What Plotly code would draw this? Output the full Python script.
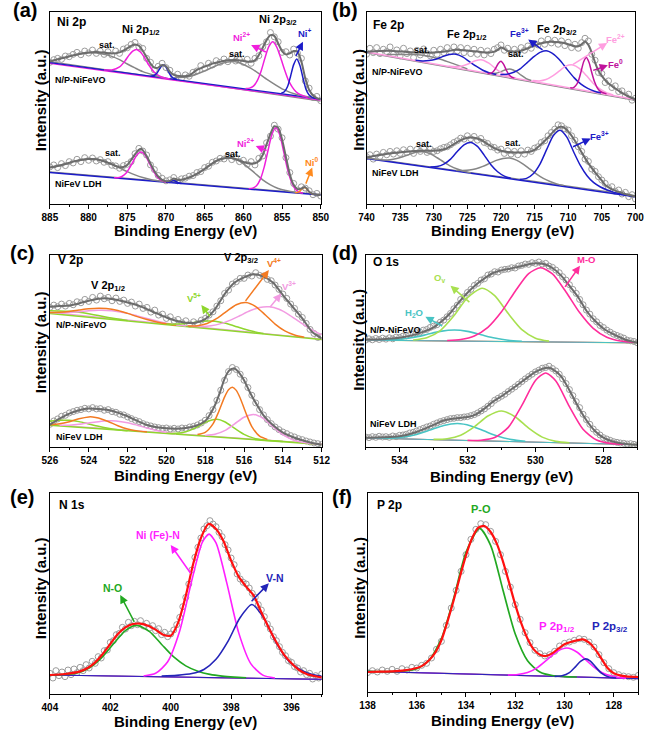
import plotly.graph_objects as go

FONT = "Liberation Sans, Arial, Helvetica, sans-serif"
W, H = 661, 735

# ======================= (a) Ni 2p =======================
a_data_x = [885.0, 884.5, 884.0, 883.5, 883.0, 882.5, 882.0, 881.5, 881.0, 880.5, 880.0, 879.5, 879.0, 878.5,
            878.0, 877.5, 877.0, 876.5, 876.0, 875.5, 875.0, 874.5, 874.0, 873.5, 873.0, 872.5, 872.0, 871.5,
            871.0, 870.5, 870.0, 869.5, 869.0, 868.5, 868.0, 867.5, 867.0, 866.5, 866.0, 865.5, 865.0, 864.5,
            864.0, 863.5, 863.0, 862.5, 862.0, 861.5, 861.0, 860.5, 860.0, 859.5, 859.0, 858.5, 858.0, 857.5,
            857.0, 856.5, 856.0, 855.5, 855.0, 854.5, 854.0, 853.5, 853.0, 852.5, 852.0, 851.5, 851.0, 850.5, 850.0]
a_top_data_y = [428, 436, 440, 437, 447, 445, 452, 458, 451, 462, 456, 465, 455, 462, 452, 460, 450, 462, 455, 468,
                472, 482, 488, 475, 470, 440, 428, 405, 416, 425, 412, 404, 385, 392, 380, 390, 386, 398, 402, 418,
                410, 425, 420, 433, 428, 438, 430, 440, 432, 436, 428, 437, 425, 440, 448, 475, 490, 518, 505, 490,
                458, 460, 450, 468, 455, 440, 372, 350, 322, 325, 312]
a_bot_data_y = [112, 118, 110, 122, 116, 128, 124, 135, 128, 140, 132, 139, 130, 134, 126, 128, 117, 115, 108, 116,
                120, 128, 152, 168, 160, 148, 118, 104, 86, 78, 70, 73, 80, 70, 76, 78, 84, 86, 95, 98,
                110, 114, 126, 130, 138, 136, 145, 134, 140, 128, 132, 120, 128, 118, 138, 145, 185, 205, 238, 226,
                200, 140, 95, 62, 42, 52, 48, 40, 28, 32, 24]
a_top_env_x = [885, 884, 883, 882, 881, 880, 879, 878, 877, 876, 875, 874.5, 874, 873.5, 873, 872.5, 872, 871.5, 871,
               870.5, 870, 869.5, 869, 868, 867, 866, 865, 864, 863, 862, 861, 860, 859, 858.5, 858, 857.5, 857,
               856.5, 856, 855.5, 855, 854.5, 854, 853.5, 853, 852.5, 852, 851.5, 851, 850.5, 850]
a_top_env_y = [430, 437, 443, 449, 454, 458, 459, 457, 455, 458, 470, 478, 482, 478, 463, 443, 424, 412, 412, 420,
               416, 400, 390, 386, 388, 405, 415, 424, 430, 434, 435, 432, 430, 434, 450, 472, 495, 510, 508, 485,
               462, 452, 455, 462, 460, 430, 380, 345, 328, 320, 316]
a_bot_env_x = [885, 884, 883, 882, 881, 880, 879, 878, 877, 876, 875.5, 875, 874.5, 874, 873.5, 873.2, 873, 872.5, 872,
               871.5, 871, 870.5, 870, 869.5, 869, 868.5, 868, 867, 866, 865, 864, 863, 862, 861, 860, 859, 858.5,
               858, 857.5, 857, 856.5, 856, 855.5, 855, 854.5, 854, 853.5, 853, 852.5, 852, 851.5, 851, 850.5, 850]
a_bot_env_y = [110, 115, 121, 128, 133, 136, 135, 129, 120, 111, 112, 118, 133, 150, 164, 167, 163, 145, 122, 100,
               83, 73, 69, 70, 77, 73, 73, 80, 91, 106, 123, 135, 140, 136, 127, 122, 123, 130, 148, 180,
               212, 235, 230, 195, 142, 90, 58, 45, 47, 51, 37, 30, 28, 27]
a_base_x = [885, 850]
a_top_base_blue_y = [427, 317]
a_top_base_gray_y = [430, 311]
a_top_base_mag_y = [425, 314]
a_bot_base_blue_y = [95, 27]
a_bot_base_gray_y = [97, 29]
a_top_sat1_x = [885, 883, 881, 880, 879, 878, 877, 876, 875, 874, 873, 871.5, 870]
a_top_sat1_y = [432, 443, 454, 457, 456, 452, 446, 436, 423, 411, 400, 389, 380]
a_top_ni2a_x = [878, 877, 876, 875.3, 874.8, 874.3, 873.8, 873.3, 872.8, 872.3, 871.5, 870.5, 869.5]
a_top_ni2a_y = [405, 405, 414, 432, 449, 462, 467, 459, 443, 423, 398, 383, 378]
a_top_ni1a_x = [872, 871.5, 871.2, 870.9, 870.6, 870.3, 870.0, 869.7, 869.4, 869.1, 868.6]
a_top_ni1a_y = [386, 389, 394, 405, 416, 420, 414, 401, 388, 381, 376]
a_top_sat2_x = [869, 867, 865, 863, 861, 859, 857, 855, 853, 851]
a_top_sat2_y = [381, 385, 402, 423, 430, 410, 377, 348, 330, 321]
a_top_ni2b_x = [859.7, 859.2, 858.7, 858.2, 857.7, 857.2, 856.7, 856.2, 855.7, 855.2, 854.7, 854.2, 853.7, 853.2, 852.7, 851.7]
a_top_ni2b_y = [349, 350, 356, 373, 402, 442, 476, 490, 475, 443, 407, 375, 354, 339, 331, 322]
a_top_ni1b_x = [855.1, 854.7, 854.3, 853.9, 853.5, 853.1, 852.7, 852.3, 851.9, 851.5, 851.1, 850.5]
a_top_ni1b_y = [335, 339, 354, 386, 421, 438, 419, 381, 346, 329, 322, 319]
a_bot_sat1_x = [885, 884, 883, 882, 881, 880, 879.5, 879, 878, 877, 876, 875, 874, 873, 872, 871, 870]
a_bot_sat1_y = [110, 115, 121, 128, 133, 136, 137, 135, 129, 120, 109, 98, 88, 80, 74, 70, 66]
a_bot_ni2a_x = [876.7, 876.2, 875.7, 875.2, 874.7, 874.2, 873.7, 873.2, 872.7, 872.2, 871.7, 871.2, 870.7, 870.2, 869.7]
a_bot_ni2a_y = [79, 79.5, 83, 92, 109, 130, 150, 157, 148, 126, 103, 84, 73, 68, 65]
a_bot_small_x = [870, 869.5, 869.2, 869.0, 868.8, 868.5, 868]
a_bot_small_y = [66, 67, 70, 72, 69.5, 65, 62]
a_bot_sat2_x = [870, 869, 868, 867, 866, 865, 864, 863, 861.8, 860.5, 859.5, 858.5, 857.5, 856.5, 855.5, 854.5, 853.5, 852.5]
a_bot_sat2_y = [68, 69, 73, 80, 91, 106, 123, 135, 140, 130, 113, 93, 73, 58, 47, 41, 36, 33]
a_bot_ni2b_x = [859.3, 858.8, 858.3, 857.8, 857.3, 856.8, 856.3, 855.8, 855.3, 854.8, 854.3, 853.8, 853.3, 852.8, 852.3]
a_bot_ni2b_y = [46, 48, 55, 75, 112, 163, 211, 230, 209, 159, 106, 67, 45, 36, 32.5]
a_bot_ni0_x = [853.3, 853.0, 852.7, 852.4, 852.1, 851.8, 851.5, 851.2, 850.9]
a_bot_ni0_y = [34, 35, 39, 47, 50, 45.5, 37, 31.4, 29]

# ======================= (b) Fe 2p =======================
b_data_x = [740.0, 739.5, 739.0, 738.5, 738.0, 737.5, 737.0, 736.5, 736.0, 735.5, 735.0, 734.5, 734.0, 733.5,
            733.0, 732.5, 732.0, 731.5, 731.0, 730.5, 730.0, 729.5, 729.0, 728.5, 728.0, 727.5, 727.0, 726.5,
            726.0, 725.5, 725.0, 724.5, 724.0, 723.5, 723.0, 722.5, 722.0, 721.5, 721.0, 720.5, 720.0, 719.5,
            719.0, 718.5, 718.0, 717.5, 717.0, 716.5, 716.0, 715.5, 715.0, 714.5, 714.0, 713.5, 713.0, 712.5,
            712.0, 711.5, 711.0, 710.5, 710.0, 709.5, 709.0, 708.5, 708.0, 707.5, 707.0, 706.5, 706.0, 705.5,
            705.0, 704.5, 704.0, 703.5, 703.0, 702.5, 702.0, 701.5, 701.0, 700.5, 700.0]
b_top_data_y = [450, 468, 455, 470, 452, 465, 458, 472, 450, 463, 445, 468, 452, 460, 440, 462, 448, 466, 452, 445,
                462, 450, 465, 455, 470, 458, 472, 460, 470, 455, 468, 452, 465, 450, 462, 448, 460, 452, 465, 470,
                478, 462, 468, 452, 465, 455, 470, 462, 475, 468, 482, 478, 490, 480, 495, 484, 492, 480, 490, 476,
                486, 470, 480, 468, 485, 498, 490, 450, 432, 395, 392, 365, 370, 350, 355, 338, 340, 325, 330, 312, 318]
b_bot_data_y = [142, 148, 135, 150, 143, 155, 148, 158, 150, 160, 152, 163, 155, 165, 152, 164, 158, 168, 155, 165,
                158, 160, 166, 170, 172, 178, 185, 190, 198, 195, 205, 196, 203, 192, 197, 185, 182, 172, 170, 162,
                165, 152, 160, 150, 158, 148, 160, 150, 162, 158, 168, 172, 185, 190, 205, 215, 225, 238, 235, 226,
                222, 205, 192, 172, 158, 135, 128, 105, 98, 82, 72, 62, 48, 52, 38, 42, 30, 35, 22, 28, 15]
b_top_env_x = [740, 738, 736, 734, 732, 730, 728, 727, 726, 725, 724, 723, 722, 721, 720.5, 720, 719.5, 719, 718, 717,
               716, 715, 714, 713, 712, 711, 710, 709, 708.5, 708, 707.5, 707, 706.5, 706, 705.5, 705, 704.5, 704,
               703, 702, 701, 700]
b_top_env_y = [457, 460, 460, 457, 455, 455, 459, 463, 463, 461, 459, 457, 455, 458, 463, 470, 466, 460, 458, 461,
               468, 476, 483, 487, 487, 485, 480, 474, 474, 480, 488, 478, 455, 425, 400, 385, 372, 362, 347, 334,
               323, 314]
b_bot_env_x = [740, 738, 736, 734, 732, 730, 729, 728, 727, 726, 725, 724.5, 724, 723, 722, 721, 720, 719, 718, 717,
               716, 715, 714, 713, 712, 711.5, 711, 710.5, 710, 709, 708, 707, 706, 705, 704.5, 704, 703, 702, 701, 700]
b_bot_env_y = [140, 147, 153, 157, 160, 160, 162, 168, 180, 192, 199, 200, 199, 193, 180, 168, 160, 156, 155, 155,
               156, 163, 180, 200, 222, 230, 232, 228, 218, 190, 155, 122, 95, 70, 57, 50, 40, 33, 27, 23]
b_base_x = [740, 700]
b_top_base_pink_y = [457, 314]
b_top_base_gray_y = [455, 311]
b_bot_base_blue_y = [137, 22]
b_bot_base_gray_y = [139, 25]
b_top_sat1_x = [737, 735, 733, 731, 729, 727, 725]
b_top_sat1_y = [449, 449, 449, 445, 435, 421, 406]
b_top_fe3a_x = [732.7, 731.7, 730.7, 729.7, 728.7, 727.7, 726.7, 725.7, 724.7, 723.7, 722.7, 721.7, 720.7]
b_top_fe3a_y = [432, 430, 431, 435, 443, 449, 450, 442, 428, 414, 402, 394, 389]
b_top_fe2a_x = [727.8, 726.8, 725.8, 724.8, 723.8, 722.8, 721.8, 720.8, 719.8, 718.8, 717.8]
b_top_fe2a_y = [414, 412.5, 414.6, 421.5, 430.5, 433, 423, 407, 393, 384, 378.5]
b_top_fe0a_x = [722, 721.6, 721.2, 720.8, 720.4, 720, 719.6, 719.2, 718.8, 718.4, 718]
b_top_fe0a_y = [392.5, 392.7, 396.8, 408, 422.4, 429, 419.6, 402, 388.2, 381.3, 378.2]
b_top_sat2_x = [721.5, 720.75, 720, 719.25, 718.5, 717.75, 717, 716.25, 715.5]
b_top_sat2_y = [392.5, 393, 398, 404, 405, 398.5, 387, 377, 371]
b_top_fe3b_x = [720.1, 719.1, 718.1, 717.1, 716.1, 715.1, 714.1, 713.1, 712.1, 711.1, 710.1, 709.1, 708.1, 707.1, 706.1, 705.1]
b_top_fe3b_y = [389, 390, 396, 407, 425, 443, 456.5, 460, 449, 429, 403, 379, 360, 347.5, 339, 334]
b_top_fe2b_x = [715.3, 714.3, 713.3, 712.3, 711.3, 710.3, 709.3, 708.3, 707.3, 706.3, 705.3, 704.3, 703.3]
b_top_fe2b_y = [371, 370, 374, 385, 400, 415, 418, 407, 386, 363, 346, 334.5, 328]
b_top_fe0b_x = [709.7, 709.3, 708.9, 708.5, 708.1, 707.7, 707.3, 706.9, 706.5, 706.1, 705.7, 705.3, 704.9, 704.3]
b_top_fe0b_y = [349, 349, 355, 369, 397, 427.5, 440, 425, 395, 368, 350, 340, 335, 331]
b_bot_sat1_x = [740, 738.5, 737.5, 736.5, 735.5, 734.5, 733.5, 732.5, 731.5, 730.5, 729.5, 728.5, 727.5, 726.5, 725.5, 724.5]
b_bot_sat1_y = [139, 134, 132.6, 133.3, 137, 143, 150, 156, 157, 151, 139, 126, 114, 105, 98, 93.4]
b_bot_fe3a_x = [730.5, 729.5, 728.5, 727.5, 726.5, 725.5, 724.5, 723.5, 722.5, 721.5, 720.5, 719.5, 718.5]
b_bot_fe3a_y = [111, 112.6, 120, 135, 158, 178, 185, 173, 147, 118, 97, 84, 77]
b_bot_sat2_x = [726.7, 725.7, 724.7, 723.7, 722.7, 721.7, 720.7, 719.7, 718.7, 717.7, 716.7, 715.7, 714.7, 713.7, 712.7, 711.7, 710.7]
b_bot_sat2_y = [101, 101, 102, 106, 113, 122, 131, 137, 138, 132, 120, 105, 90, 77, 67.5, 60.4, 55.4]
b_bot_fe3b_x = [717.2, 716.2, 715.2, 714.2, 713.2, 712.2, 711.2, 710.2, 709.2, 708.2, 707.2, 706.2, 705.2, 704.2, 703.2, 702.2, 701.2, 700]
b_bot_fe3b_y = [74, 77, 91, 120, 164, 206, 222, 201, 157, 116, 85, 64, 51, 42, 35, 30.4, 26.5, 22.5]

# ======================= (c) V 2p =======================
c_data_x = [526.0, 525.8, 525.6, 525.4, 525.2, 525.0, 524.8, 524.6, 524.4, 524.2, 524.0, 523.8, 523.6, 523.4,
            523.2, 523.0, 522.8, 522.6, 522.4, 522.2, 522.0, 521.8, 521.6, 521.4, 521.2, 521.0, 520.8, 520.6,
            520.4, 520.2, 520.0, 519.8, 519.6, 519.4, 519.2, 519.0, 518.8, 518.6, 518.4, 518.2, 518.0, 517.8,
            517.6, 517.4, 517.2, 517.0, 516.8, 516.6, 516.4, 516.2, 516.0, 515.8, 515.6, 515.4, 515.2, 515.0,
            514.8, 514.6, 514.4, 514.2, 514.0, 513.8, 513.6, 513.4, 513.2, 513.0, 512.8, 512.6, 512.4, 512.2, 512.0]
c_top_data_y = [418, 425, 420, 428, 422, 430, 426, 435, 432, 442, 436, 448, 440, 452, 444, 448, 438, 446, 436, 440,
                430, 434, 422, 428, 415, 418, 404, 410, 395, 398, 385, 390, 378, 382, 372, 378, 368, 375, 370, 380,
                385, 395, 405, 422, 438, 460, 470, 488, 495, 505, 505, 515, 512, 522, 514, 512, 502, 498, 485, 472,
                458, 445, 428, 415, 398, 388, 370, 352, 340, 328, 330]
c_bot_data_y = [68, 78, 84, 92, 95, 102, 106, 110, 112, 116, 114, 118, 114, 115, 110, 112, 106, 104, 98, 96,
                90, 85, 80, 76, 70, 66, 63, 60, 58, 56, 57, 54, 56, 54, 57, 56, 60, 62, 66, 72,
                80, 94, 112, 140, 170, 200, 226, 238, 232, 218, 200, 178, 155, 132, 112, 96, 82, 70, 60, 52,
                45, 40, 34, 30, 25, 22, 18, 15, 12, 10, 8]
c_top_env_x = [526, 525.5, 525, 524.5, 524, 523.5, 523, 522.5, 522, 521.5, 521, 520.5, 520, 519.5, 519, 518.5, 518,
               517.5, 517, 516.5, 516, 515.5, 515, 514.5, 514, 513.5, 513, 512.5, 512]
c_top_env_y = [420, 422, 424, 430, 438, 444, 445, 440, 433, 425, 413, 400, 388, 378, 372, 372, 383, 412, 458, 492,
               508, 517, 510, 492, 455, 420, 385, 345, 325]
c_bot_env_x = [526, 525.5, 525, 524.5, 524, 523.5, 523, 522.5, 522, 521.5, 521, 520.5, 520, 519.5, 519, 518.5, 518,
               517.75, 517.5, 517.25, 517, 516.75, 516.5, 516.25, 516, 515.75, 515.5, 515.25, 515, 514.5, 514, 513.5,
               513, 512.5, 512]
c_bot_env_y = [67, 85, 100, 110, 115, 114, 111, 103, 92, 78, 66, 59, 56, 55, 57, 63, 78, 98, 125, 162, 205, 230,
               235, 222, 200, 170, 142, 118, 95, 65, 43, 30, 20, 12, 7]
c_base_x = [526, 512]
c_top_base_y = [400, 322]
c_top_base2_y = [403, 323]
c_bot_base_y = [65, 8]
c_bot_base2_y = [67, 9]
c_top_v5a_x = [526, 525.5, 525, 524.8, 524.5, 524, 523.5, 523, 522.5, 522]
c_top_v5a_y = [408, 407.5, 406.3, 405.3, 403.4, 398.8, 393.5, 388, 383, 378.8]
c_top_v4a_x = [526, 525.5, 525, 524.5, 524, 523.5, 523.1, 522.5, 522, 521.5, 521, 520.5, 520, 519.5]
c_top_v4a_y = [403, 403.7, 406, 410, 413.8, 415.8, 414.8, 408.7, 400.1, 390.4, 381.6, 374.4, 368.9, 364.7]
c_top_v3a_x = [526, 525.5, 525, 524.5, 524, 523.5, 522.8, 522, 521.5, 521, 520.5, 520, 519.5, 519]
c_top_v3a_y = [402.6, 402.2, 403.1, 405.1, 407.7, 409.4, 408.2, 400.2, 392.6, 384.7, 377.3, 371, 366, 362.1]
c_top_v5b_x = [520, 519.5, 519, 518.5, 518, 517.5, 517, 516.5, 516, 515.5, 515]
c_top_v5b_y = [368, 368, 370, 373.7, 377, 376.6, 371.4, 362.5, 353.2, 345.6, 340.2]
c_top_v4b_x = [518.9, 518.4, 517.9, 517.4, 516.9, 516.4, 515.9, 515.4, 514.9, 514.4, 513.9, 513.4, 512.9]
c_top_v4b_y = [362.2, 363.3, 370, 384.9, 406.4, 426.2, 432.7, 420.7, 395.3, 368.2, 347.7, 335.4, 328.7]
c_top_v3b_x = [518.7, 518.2, 517.7, 517.2, 516.7, 516.2, 515.7, 515.2, 514.7, 514.2, 513.7, 513.2, 512.7, 512.2, 512]
c_top_v3b_y = [361.1, 360.9, 363.3, 369.4, 379.9, 393.8, 407.9, 418, 420, 412.4, 396.7, 377.1, 357.7, 341.6, 336.5]
c_bot_v5a_x = [526, 525.5, 525, 524.5, 524, 523.5, 523, 522.5, 522]
c_bot_v5a_y = [77, 80, 80, 76, 69, 62, 56, 52, 49]
c_bot_v4a_x = [526, 525.5, 525, 524.5, 524, 523.8, 523.5, 523, 522.5, 522, 521.5, 521]
c_bot_v4a_y = [67, 69.5, 75.8, 84.6, 90.1, 90, 87.1, 76.4, 63.7, 54, 48.3, 45]
c_bot_v3a_x = [525.5, 525, 524.5, 524, 523.5, 523, 522.6, 522, 521.5, 521, 520.5, 520, 519.5]
c_bot_v3a_y = [65, 65.5, 67.8, 71.7, 75.8, 78.5, 78.2, 72.9, 65.3, 56.9, 49.5, 44, 40]
c_bot_v5b_x = [520, 519.5, 519, 518.5, 518, 517.4, 517, 516.5, 516, 515.5, 515, 514.5, 514]
c_bot_v5b_y = [41, 41, 45.5, 57.4, 73.7, 83, 75.7, 56.5, 37.9, 26.5, 21.2, 18.4, 16.1]
c_bot_v4b_x = [518.4, 518, 517.6, 517.3, 517, 516.8, 516.6, 516.4, 516.2, 515.9, 515.6, 515.2, 514.8]
c_bot_v4b_y = [37.4, 43.7, 69.2, 106.5, 150, 171.3, 178.7, 169.5, 146.7, 100.8, 61.1, 32.4, 22.9]
c_bot_v3b_x = [518, 517.5, 517, 516.5, 516, 515.5, 515, 514.5, 514, 513.5, 513, 512.5, 512]
c_bot_v3b_y = [34.5, 37.9, 49, 68.6, 89.2, 97.2, 85.1, 60.4, 36.8, 21.7, 14.2, 10.4, 8]

# ======================= (d) O 1s =======================
d_data_x = [535.0, 534.9, 534.8, 534.7, 534.6, 534.5, 534.4, 534.3, 534.2, 534.1, 534.0, 533.9, 533.8, 533.7,
            533.6, 533.5, 533.4, 533.3, 533.2, 533.1, 533.0, 532.9, 532.8, 532.7, 532.6, 532.5, 532.4, 532.3,
            532.2, 532.1, 532.0, 531.9, 531.8, 531.7, 531.6, 531.5, 531.4, 531.3, 531.2, 531.1, 531.0, 530.9,
            530.8, 530.7, 530.6, 530.5, 530.4, 530.3, 530.2, 530.1, 530.0, 529.9, 529.8, 529.7, 529.6, 529.5,
            529.4, 529.3, 529.2, 529.1, 529.0, 528.9, 528.8, 528.7, 528.6, 528.5, 528.4, 528.3, 528.2, 528.1,
            528.0, 527.9, 527.8, 527.7, 527.6, 527.5, 527.4, 527.3, 527.2, 527.1, 527.0]
d_top_data_y = [320, 324, 321, 325, 322, 326, 323, 327, 324, 329, 328, 332, 333, 336, 338, 342, 344, 350, 352, 358,
                362, 366, 374, 380, 390, 400, 414, 425, 442, 450, 463, 472, 484, 490, 500, 504, 515, 518, 525, 524,
                530, 532, 533, 537, 536, 542, 544, 548, 547, 552, 550, 554, 548, 550, 542, 538, 530, 522, 510, 500,
                486, 472, 460, 442, 426, 410, 398, 384, 375, 364, 358, 350, 344, 338, 334, 330, 326, 320, 318, 316, 312]
d_bot_data_y = [30, 28, 31, 29, 32, 30, 31, 29, 33, 31, 35, 36, 38, 42, 44, 48, 52, 56, 60, 63,
                68, 72, 76, 79, 82, 85, 86, 88, 88, 90, 91, 94, 97, 102, 108, 114, 122, 130, 140, 146,
                152, 158, 166, 173, 180, 188, 196, 204, 211, 218, 225, 230, 236, 238, 242, 235, 228, 218, 204, 190,
                172, 154, 136, 118, 98, 82, 68, 54, 44, 36, 28, 24, 20, 16, 14, 12, 11, 9, 10, 8, 6]
d_top_env_x = [535, 534.5, 534, 533.5, 533, 532.75, 532.5, 532.25, 532, 531.75, 531.5, 531.25, 531, 530.75, 530.5,
               530.25, 530, 529.75, 529.5, 529.25, 529, 528.75, 528.5, 528.25, 528, 527.75, 527.5, 527.25, 527]
d_top_env_y = [322, 323, 327, 338, 358, 377, 402, 434, 462, 486, 505, 521, 529, 534, 540, 546, 550, 548, 536, 514,
               483, 450, 408, 378, 355, 340, 328, 318, 313]
d_bot_env_x = [535, 534.5, 534, 533.5, 533, 532.75, 532.5, 532.25, 532, 531.75, 531.5, 531.25, 531, 530.75, 530.5,
               530.25, 530, 529.75, 529.6, 529.5, 529.25, 529, 528.75, 528.5, 528.25, 528, 527.75, 527.5, 527.25, 527]
d_bot_env_y = [28, 29, 32, 45, 66, 78, 84, 87, 90, 98, 115, 136, 152, 170, 188, 207, 225, 236, 237, 233,
               212, 170, 122, 80, 48, 28, 17, 11, 8, 7]
d_base_x = [535, 527]
d_top_base_y = [320, 312]
d_bot_base_y = [27, 7]
d_top_h2o_x = [534.4, 534, 533.6, 533.2, 532.8, 532.38, 532, 531.6, 531.2, 530.8, 530.4]
d_top_h2o_y = [320.4, 322.5, 327.8, 336.8, 346.2, 350.4, 346.2, 336.2, 326.2, 319.7, 316.6]
d_top_ov_x = [533.6, 533.2, 532.8, 532.4, 532, 531.57, 531.2, 530.8, 530.4, 530, 529.6]
d_top_ov_y = [320.4, 327.2, 348.8, 392.9, 447, 475.6, 453.2, 399.5, 351.6, 326, 317]
d_top_mo_x = [532.6, 532.2, 531.8, 531.4, 531, 530.6, 530.2, 529.85, 529.5, 529.1, 528.7, 528.3, 527.9, 527.5, 527.1]
d_top_mo_y = [318.8, 322, 332.7, 358.4, 404.8, 465.9, 519.2, 536.9, 518.5, 464.4, 402.5, 355.3, 328.8, 317.3, 313.3]
d_bot_h2o_x = [534.3, 533.9, 533.5, 533.1, 532.7, 532.29, 531.9, 531.5, 531.1, 530.7, 530.3]
d_bot_h2o_y = [26.9, 29.8, 37.6, 50.8, 64.6, 70.2, 63.2, 47.6, 32.2, 22.1, 17]
d_bot_ov_x = [533, 532.6, 532.2, 531.8, 531.4, 531, 530.6, 530.2, 529.8, 529.4, 529]
d_bot_ov_y = [22.7, 24.9, 35.5, 60.4, 92.7, 108, 90.7, 56.4, 29.5, 16.9, 12.7]
d_bot_mo_x = [532, 531.6, 531.2, 530.8, 530.4, 530, 529.7, 529.4, 529, 528.6, 528.2, 527.8, 527.4]
d_bot_mo_y = [19.7, 20.3, 28.3, 58.7, 124.5, 199.2, 221.8, 197.7, 121, 53.2, 20.8, 10.8, 8.2]

# ======================= (e) N 1s =======================
e_data_x = [404.0, 403.9, 403.8, 403.7, 403.6, 403.5, 403.4, 403.3, 403.2, 403.1, 403.0, 402.9, 402.8, 402.7,
            402.6, 402.5, 402.4, 402.3, 402.2, 402.1, 402.0, 401.9, 401.8, 401.7, 401.6, 401.5, 401.4, 401.3,
            401.2, 401.1, 401.0, 400.9, 400.8, 400.7, 400.6, 400.5, 400.4, 400.3, 400.2, 400.1, 400.0, 399.9,
            399.8, 399.7, 399.6, 399.5, 399.4, 399.3, 399.2, 399.1, 399.0, 398.9, 398.8, 398.7, 398.6, 398.5,
            398.4, 398.3, 398.2, 398.1, 398.0, 397.9, 397.8, 397.7, 397.6, 397.5, 397.4, 397.3, 397.2, 397.1,
            397.0, 396.9, 396.8, 396.7, 396.6, 396.5, 396.4, 396.3, 396.2, 396.1, 396.0, 395.9, 395.8, 395.7,
            395.6, 395.5, 395.4, 395.3, 395.2, 395.1, 395.0]
e_data_y = [62, 48, 70, 55, 66, 52, 72, 58, 75, 64, 80, 70, 88, 78, 98, 92, 112, 108, 130, 132,
            155, 160, 178, 182, 200, 195, 215, 205, 218, 208, 220, 204, 212, 198, 205, 190, 196, 178, 185, 172,
            180, 192, 208, 230, 262, 290, 330, 372, 410, 440, 468, 495, 505, 520, 510, 502, 485, 472, 448, 432,
            408, 388, 360, 345, 335, 330, 318, 302, 290, 268, 252, 232, 210, 195, 172, 160, 142, 125, 115, 100,
            95, 82, 78, 66, 70, 58, 62, 45, 55, 48, 60]
e_env_x = [404, 403.5, 403, 402.75, 402.5, 402.25, 402, 401.75, 401.5, 401.25, 401, 400.75, 400.5, 400.25, 400,
           399.75, 399.5, 399.25, 399, 398.75, 398.5, 398.25, 398, 397.75, 397.5, 397.25, 397, 396.75, 396.5,
           396.25, 396, 395.75, 395.5, 395.25, 395]
e_env_y = [57, 60, 68, 78, 95, 120, 150, 180, 200, 210, 211, 205, 193, 178, 175, 215, 295, 392, 468, 510,
           495, 458, 400, 352, 322, 295, 245, 198, 155, 118, 92, 72, 60, 54, 50]
e_base_x = [404, 395]
e_base_y = [57, 44]
e_no_x = [404, 403.5, 403.1, 402.7, 402.3, 401.9, 401.5, 401.13, 400.7, 400.3, 399.9, 399.5, 399.1, 398.7, 398.3, 397.9, 397.5]
e_no_y = [57.3, 58.3, 63.2, 78.1, 107.5, 150, 190.4, 205.9, 187.3, 148.7, 111.1, 84.5, 68.4, 58.8, 53.6, 50.6, 48.6]
e_nife_x = [400.9, 400.5, 400.1, 399.7, 399.3, 398.95, 398.73, 398.5, 398.15, 397.75, 397.35, 396.95, 396.55]
e_nife_y = [54.1, 62, 96.7, 189.8, 341.3, 455.8, 479.5, 453.2, 335.7, 184.1, 91.3, 56.5, 47.8]
e_vn_x = [400.3, 399.8, 399.3, 398.9, 398.5, 398.1, 397.71, 397.31, 396.91, 396.51, 396.11, 395.71, 395.31, 395]
e_vn_y = [53.7, 56, 61.3, 73.7, 104.1, 158.6, 228, 268.4, 226.8, 154.3, 100.7, 73.1, 58.4, 53]

# ======================= (f) P 2p =======================
f_data_x = [138.0, 137.8, 137.6, 137.4, 137.2, 137.0, 136.8, 136.6, 136.4, 136.2, 136.0, 135.8, 135.6, 135.4,
            135.2, 135.0, 134.8, 134.6, 134.4, 134.2, 134.0, 133.8, 133.6, 133.4, 133.2, 133.0, 132.8, 132.6,
            132.4, 132.2, 132.0, 131.8, 131.6, 131.4, 131.2, 131.0, 130.8, 130.6, 130.4, 130.2, 130.0, 129.8,
            129.6, 129.4, 129.2, 129.0, 128.8, 128.6, 128.4, 128.2, 128.0, 127.8, 127.6, 127.4, 127.2, 127.0]
f_data_y = [58, 64, 60, 66, 62, 68, 62, 70, 66, 74, 72, 80, 86, 102, 128, 152, 200, 252, 305, 362,
            412, 458, 488, 505, 502, 482, 452, 412, 362, 315, 262, 218, 178, 148, 125, 115, 108, 112, 122, 138,
            146, 150, 155, 160, 158, 150, 135, 112, 88, 70, 58, 52, 48, 46, 44, 50]
f_env_x = [138, 137.5, 137, 136.5, 136, 135.75, 135.5, 135.25, 135, 134.75, 134.5, 134.25, 134, 133.75, 133.5,
           133.25, 133, 132.75, 132.5, 132.25, 132, 131.75, 131.5, 131.25, 131, 130.75, 130.5, 130.25, 130,
           129.75, 129.5, 129.25, 129, 128.75, 128.5, 128.25, 128, 127.75, 127.5, 127]
f_env_y = [60, 61, 62, 65, 72, 80, 95, 118, 155, 212, 275, 345, 410, 462, 493, 498, 480, 445, 392, 328,
           262, 205, 160, 128, 112, 108, 116, 130, 143, 150, 155, 158, 148, 128, 100, 72, 56, 50, 47, 45]
f_base_x = [138, 127]
f_base_y = [62, 40]
f_po_x = [138, 137, 136.5, 136, 135.5, 135, 134.5, 134, 133.45, 133, 132.5, 132, 131.5, 131, 130.5, 130, 129.5]
f_po_y = [62, 61, 63, 70, 95, 160, 281, 419, 490.9, 440, 306, 174, 93.9, 60, 49.4, 46.4, 45]
f_p12_x = [132.3, 131.9, 131.5, 131.1, 130.7, 130.3, 129.9, 129.5, 129.1, 128.7, 128.3, 127.9, 127.5]
f_p12_y = [51.2, 52.6, 58.6, 73.3, 97.2, 121.6, 131.8, 120, 94, 68.5, 52.2, 44.6, 41.6]
f_p32_x = [130.4, 130.1, 129.8, 129.55, 129.35, 129.14, 128.95, 128.75, 128.5, 128.2, 127.9]
f_p32_y = [47, 48.6, 58, 76.1, 92, 99.3, 92.5, 76.2, 56.5, 45.1, 42]

# ======================= colours =======================
C_DATA = '#9c9c9c'
C_ENV = '#6c6c6c'
C_SAT = '#868686'
C_MAG_A = '#f01fdc'
C_BLUE = '#1c1cc8'
C_ORANGE_A = '#ff8a1e'
C_PINK_B = '#ff9ee0'
C_PURPLE_B = '#c0129c'
C_ORANGE_C = '#f37a22'
C_PINK_C = '#f29be2'
C_GREEN_C = '#8fd62e'
C_CYAN_D = '#48c4c4'
C_GREEN_D = '#a8e050'
C_MAG_D = '#ff2d9b'
C_RED = '#ff1010'
C_GREEN_E = '#22a822'
C_MAG_E = '#ff1fff'
C_BLUE_E = '#2424b8'

fig = go.Figure()


def ax_names(k):
    s = '' if k == 1 else str(k)
    return 'x' + s, 'y' + s


def scatter(k, x, y):
    xa, ya = ax_names(k)
    fig.add_trace(go.Scatter(x=x, y=y, mode='markers', xaxis=xa, yaxis=ya, showlegend=False, hoverinfo='skip',
                             marker=dict(symbol='circle-open', size=6, color=C_DATA, line=dict(width=1, color=C_DATA))))


def line(k, x, y, color, width=1.5, spline=True):
    xa, ya = ax_names(k)
    fig.add_trace(go.Scatter(x=x, y=y, mode='lines', xaxis=xa, yaxis=ya, showlegend=False, hoverinfo='skip',
                             line=dict(color=color, width=width, shape='spline' if spline else 'linear',
                                       smoothing=0.7)))


# ---- (a)
scatter(1, a_data_x, a_top_data_y)
scatter(1, a_data_x, a_bot_data_y)
line(1, a_base_x, a_top_base_gray_y, C_SAT, 1.2, False)
line(1, a_base_x, a_top_base_mag_y, C_MAG_A, 1.2, False)
line(1, a_base_x, a_top_base_blue_y, C_BLUE, 1.4, False)
line(1, a_top_sat1_x, a_top_sat1_y, C_SAT)
line(1, a_top_sat2_x, a_top_sat2_y, C_SAT)
line(1, a_top_ni2a_x, a_top_ni2a_y, C_MAG_A)
line(1, a_top_ni2b_x, a_top_ni2b_y, C_MAG_A)
line(1, a_top_ni1a_x, a_top_ni1a_y, C_BLUE)
line(1, a_top_ni1b_x, a_top_ni1b_y, C_BLUE)
line(1, a_top_env_x, a_top_env_y, C_ENV, 2.0)
line(1, a_base_x, a_bot_base_gray_y, C_SAT, 1.2, False)
line(1, a_base_x, a_bot_base_blue_y, C_BLUE, 1.5, False)
line(1, a_bot_sat1_x, a_bot_sat1_y, C_SAT)
line(1, a_bot_sat2_x, a_bot_sat2_y, C_SAT)
line(1, a_bot_ni2a_x, a_bot_ni2a_y, C_MAG_A)
line(1, a_bot_ni2b_x, a_bot_ni2b_y, C_MAG_A)
line(1, a_bot_small_x, a_bot_small_y, C_BLUE)
line(1, a_bot_ni0_x, a_bot_ni0_y, C_ORANGE_A)
line(1, a_bot_env_x, a_bot_env_y, C_ENV, 2.0)

# ---- (b)
scatter(2, b_data_x, b_top_data_y)
scatter(2, b_data_x, b_bot_data_y)
line(2, b_base_x, b_top_base_gray_y, C_SAT, 1.2, False)
line(2, b_base_x, b_top_base_pink_y, C_PINK_B, 1.5, False)
line(2, b_top_sat1_x, b_top_sat1_y, C_SAT)
line(2, b_top_sat2_x, b_top_sat2_y, C_SAT)
line(2, b_top_fe3a_x, b_top_fe3a_y, C_BLUE)
line(2, b_top_fe2a_x, b_top_fe2a_y, C_PINK_B)
line(2, b_top_fe0a_x, b_top_fe0a_y, C_PURPLE_B)
line(2, b_top_fe3b_x, b_top_fe3b_y, C_BLUE)
line(2, b_top_fe2b_x, b_top_fe2b_y, C_PINK_B)
line(2, b_top_fe0b_x, b_top_fe0b_y, C_PURPLE_B)
line(2, b_top_env_x, b_top_env_y, C_ENV, 2.0)
line(2, b_base_x, b_bot_base_gray_y, C_SAT, 1.2, False)
line(2, b_base_x, b_bot_base_blue_y, C_BLUE, 1.5, False)
line(2, b_bot_sat1_x, b_bot_sat1_y, C_SAT)
line(2, b_bot_sat2_x, b_bot_sat2_y, C_SAT)
line(2, b_bot_fe3a_x, b_bot_fe3a_y, C_BLUE)
line(2, b_bot_fe3b_x, b_bot_fe3b_y, C_BLUE)
line(2, b_bot_env_x, b_bot_env_y, C_ENV, 2.0)

# ---- (c)
scatter(3, c_data_x, c_top_data_y)
scatter(3, c_data_x, c_bot_data_y)
line(3, c_base_x, c_top_base2_y, C_PINK_C, 1.2, False)
line(3, c_base_x, c_top_base_y, C_GREEN_C, 1.6, False)
line(3, c_top_v5a_x, c_top_v5a_y, C_GREEN_C)
line(3, c_top_v3a_x, c_top_v3a_y, C_PINK_C)
line(3, c_top_v4a_x, c_top_v4a_y, C_ORANGE_C)
line(3, c_top_v5b_x, c_top_v5b_y, C_GREEN_C)
line(3, c_top_v3b_x, c_top_v3b_y, C_PINK_C)
line(3, c_top_v4b_x, c_top_v4b_y, C_ORANGE_C)
line(3, c_top_env_x, c_top_env_y, C_ENV, 2.0)
line(3, c_base_x, c_bot_base2_y, C_PINK_C, 1.2, False)
line(3, c_base_x, c_bot_base_y, C_GREEN_C, 1.6, False)
line(3, c_bot_v5a_x, c_bot_v5a_y, C_GREEN_C)
line(3, c_bot_v3a_x, c_bot_v3a_y, C_PINK_C)
line(3, c_bot_v4a_x, c_bot_v4a_y, C_ORANGE_C)
line(3, c_bot_v5b_x, c_bot_v5b_y, C_GREEN_C)
line(3, c_bot_v3b_x, c_bot_v3b_y, C_PINK_C)
line(3, c_bot_v4b_x, c_bot_v4b_y, C_ORANGE_C)
line(3, c_bot_env_x, c_bot_env_y, C_ENV, 2.0)

# ---- (d)
scatter(4, d_data_x, d_top_data_y)
scatter(4, d_data_x, d_bot_data_y)
for base in (d_top_base_y, d_bot_base_y):
    line(4, d_base_x, base, C_GREEN_D, 1.2, False)
    line(4, d_base_x, base, C_MAG_D, 1.0, False)
    line(4, d_base_x, base, C_CYAN_D, 1.0, False)
line(4, d_top_h2o_x, d_top_h2o_y, C_CYAN_D, 1.6)
line(4, d_top_ov_x, d_top_ov_y, C_GREEN_D, 1.6)
line(4, d_top_mo_x, d_top_mo_y, C_MAG_D, 1.6)
line(4, d_top_env_x, d_top_env_y, C_ENV, 2.0)
line(4, d_bot_h2o_x, d_bot_h2o_y, C_CYAN_D, 1.6)
line(4, d_bot_ov_x, d_bot_ov_y, C_GREEN_D, 1.6)
line(4, d_bot_mo_x, d_bot_mo_y, C_MAG_D, 1.6)
line(4, d_bot_env_x, d_bot_env_y, C_ENV, 2.0)

# ---- (e)
scatter(5, e_data_x, e_data_y)
line(5, e_base_x, e_base_y, C_GREEN_E, 1.2, False)
line(5, e_base_x, e_base_y, C_MAG_E, 1.2, False)
line(5, e_base_x, e_base_y, C_BLUE_E, 1.0, False)
line(5, e_no_x, e_no_y, C_GREEN_E, 1.6)
line(5, e_nife_x, e_nife_y, C_MAG_E, 1.6)
line(5, e_vn_x, e_vn_y, C_BLUE_E, 1.6)
line(5, e_env_x, e_env_y, C_RED, 2.2)

# ---- (f)
scatter(6, f_data_x, f_data_y)
line(6, f_base_x, f_base_y, C_GREEN_E, 1.2, False)
line(6, f_base_x, f_base_y, C_MAG_E, 1.2, False)
line(6, f_base_x, f_base_y, C_BLUE_E, 1.0, False)
line(6, f_po_x, f_po_y, C_GREEN_E, 1.7)
line(6, f_p12_x, f_p12_y, C_MAG_E, 1.6)
line(6, f_p32_x, f_p32_y, C_BLUE_E, 1.6)
line(6, f_env_x, f_env_y, C_RED, 2.2)

# ======================= axes =======================
panels = {
    1: ((43, 321, 12, 204), [885, 850], 580, 5),
    2: ((368, 644, 12, 204), [740, 700], 577, 5),
    3: ((43, 322, 255, 447), [526, 512], 575, 2),
    4: ((367, 646, 255, 447), [535, 527], 575, 2),
    5: ((43, 322, 493, 694), [404, 395], 603, 2),
    6: ((369, 647, 493, 692), [138, 127], 597, 2),
}
layout_axes = {}
for k, ((l, r, t, b), xr, ymax, dt) in panels.items():
    s = '' if k == 1 else str(k)
    layout_axes['xaxis' + s] = dict(
        domain=[l / W, r / W], range=xr, anchor='y' + s, showline=True, mirror=True, linecolor='black',
        linewidth=1.3, ticks='outside', ticklen=4, tickwidth=1.2, tickcolor='black', dtick=dt, tick0=0,
        tickfont=dict(family=FONT, size=10, color='black', weight='bold'), showgrid=False, zeroline=False,
        minor=dict(ticks='outside', ticklen=2, tickwidth=1, tickcolor='black', dtick=dt / 2, showgrid=False))
    layout_axes['yaxis' + s] = dict(
        domain=[1 - b / H, 1 - t / H], range=[0, ymax], anchor='x' + s, showline=True, mirror=True,
        linecolor='black', linewidth=1.3, ticks='', showticklabels=False, showgrid=False, zeroline=False)

# ======================= annotations =======================
ann = []


def txt(k, x, y, text, size=9, color='black', xanchor='center'):
    xa, ya = ax_names(k)
    ann.append(dict(x=x, y=y, xref=xa, yref=ya, text=text, showarrow=False, xanchor=xanchor,
                    yanchor='middle', font=dict(family=FONT, size=size, color=color, weight='bold')))


def arrow(k, xh, yh, xt, yt, color):
    xa, ya = ax_names(k)
    ann.append(dict(x=xh, y=yh, ax=xt, ay=yt, xref=xa, yref=ya, axref=xa, ayref=ya, text='', showarrow=True,
                    arrowhead=2, arrowsize=1.1, arrowwidth=1.5, arrowcolor=color))


def ptxt(px, py, text, size, angle=0):
    ann.append(dict(x=px / W, y=1 - py / H, xref='paper', yref='paper', text=text,
                    showarrow=False, textangle=angle, xanchor='center', yanchor='middle',
                    font=dict(family=FONT, size=size, color='black', weight='bold')))


# (a)
txt(1, 882.2, 550, 'Ni 2p', 12)
txt(1, 873.2, 525, 'Ni 2p<sub>1/2</sub>', 11)
txt(1, 855.5, 555, 'Ni 2p<sub>3/2</sub>', 11)
txt(1, 877.6, 480, 'sat.', 9)
txt(1, 860.8, 453, 'sat.', 9)
txt(1, 876.9, 153, 'sat.', 9)
txt(1, 861.4, 150, 'sat.', 9)
txt(1, 860.2, 503, 'Ni<sup>2+</sup>', 9.5, C_MAG_A)
arrow(1, 859.0, 480, 856.9, 457, C_MAG_A)
txt(1, 852.0, 517, 'Ni<sup>+</sup>', 9.5, C_BLUE)
arrow(1, 852.3, 490, 853.3, 443, C_BLUE)
txt(1, 859.7, 185, 'Ni<sup>2+</sup>', 9.5, C_MAG_A)
arrow(1, 858.4, 175, 856.8, 160, C_MAG_A)
txt(1, 851.1, 127, 'Ni<sup>0</sup>', 9.5, C_ORANGE_A)
arrow(1, 851.1, 110, 852.0, 57, C_ORANGE_A)
txt(1, 884.6, 375, 'N/P-NiFeVO', 9, xanchor='left')
txt(1, 884.6, 60, 'NiFeV LDH', 9, xanchor='left')
# (b)
txt(2, 736.8, 537, 'Fe 2p', 12)
txt(2, 725.2, 507, 'Fe 2p<sub>1/2</sub>', 11)
txt(2, 711.7, 524, 'Fe 2p<sub>3/2</sub>', 11)
txt(2, 731.7, 464, 'sat.', 9)
txt(2, 717.7, 452, 'sat.', 9)
txt(2, 731.5, 180, 'sat.', 9)
txt(2, 718.2, 182, 'sat.', 9)
txt(2, 717.3, 515, 'Fe<sup>3+</sup>', 9.5, C_BLUE)
arrow(2, 715.95, 494, 713.6, 460, C_BLUE)
txt(2, 703.0, 497, 'Fe<sup>2+</sup>', 9.5, C_PINK_B)
arrow(2, 704.2, 484, 709.5, 417, C_PINK_B)
txt(2, 703.0, 422, 'Fe<sup>0</sup>', 9.5, C_PURPLE_B)
arrow(2, 704.1, 417, 706.5, 400, C_PURPLE_B)
txt(2, 705.4, 204, 'Fe<sup>3+</sup>', 9.5, C_BLUE)
arrow(2, 706.65, 197, 709.5, 170, C_BLUE)
txt(2, 739.5, 397, 'N/P-NiFeVO', 9, xanchor='left')
txt(2, 739.5, 92, 'NiFeV LDH', 9, xanchor='left')
# (c)
txt(3, 524.96, 560, 'V 2p', 12)
txt(3, 523.03, 483, 'V 2p<sub>1/2</sub>', 11)
txt(3, 516.15, 565, 'V 2p<sub>3/2</sub>', 11)
txt(3, 518.58, 447, 'V<sup>5+</sup>', 9.5, C_GREEN_C)
arrow(3, 518.2, 425, 517.7, 387, C_GREEN_C)
txt(3, 514.47, 552, 'V<sup>4+</sup>', 9.5, C_ORANGE_C)
arrow(3, 514.72, 530, 515.98, 433, C_ORANGE_C)
txt(3, 513.71, 482, 'V<sup>3+</sup>', 9.5, C_PINK_C)
arrow(3, 514.08, 460, 514.72, 415, C_PINK_C)
txt(3, 525.8, 365, 'N/P-NiFeVO', 9, xanchor='left')
txt(3, 525.8, 30, 'NiFeV LDH', 9, xanchor='left')
# (d)
txt(4, 534.39, 555, 'O 1s', 12)
txt(4, 528.51, 563, 'M-O', 9.5, C_MAG_D)
arrow(4, 528.69, 543, 529.16, 475, C_MAG_D)
txt(4, 532.81, 505, 'O<sub>v</sub>', 9.5, C_GREEN_D)
arrow(4, 532.5, 483, 531.9, 430, C_GREEN_D)
txt(4, 533.56, 400, 'H<sub>2</sub>O', 9.5, C_CYAN_D)
arrow(4, 533.24, 390, 532.7, 360, C_CYAN_D)
txt(4, 534.93, 350, 'N/P-NiFeVO', 9, xanchor='left')
txt(4, 534.93, 70, 'NiFeV LDH', 9, xanchor='left')
# (e)
txt(5, 403.28, 567, 'N 1s', 12)
txt(5, 400.43, 477, 'Ni (Fe)-N', 10.5, C_MAG_E)
arrow(5, 400.0, 447, 399.3, 357, C_MAG_E)
txt(5, 401.94, 319, 'N-O', 10.5, C_GREEN_E)
arrow(5, 401.67, 297, 401.18, 212, C_GREEN_E)
txt(5, 396.56, 349, 'V-N', 10.5, C_BLUE_E)
arrow(5, 396.75, 332, 397.37, 274, C_BLUE_E)
# (f)
txt(6, 137.11, 560, 'P 2p', 12)
txt(6, 133.41, 550, 'P-O', 11, C_GREEN_E)
txt(6, 130.3, 195, 'P 2p<sub>1/2</sub>', 11.5, C_MAG_E)
txt(6, 128.16, 195, 'P 2p<sub>3/2</sub>', 11.5, C_BLUE_E)

# panel letters, axis titles
for (px, py, s) in [(17, 10, '(a)'), (346, 10, '(b)'), (14, 253, '(c)'), (346, 253, '(d)'),
                    (14, 497, '(e)'), (343, 497, '(f)')]:
    ptxt(px, py, s, 20)
for (px, py) in [(182, 230), (508, 230), (182, 475), (507, 476), (182, 721), (508, 720)]:
    ptxt(px, py, 'Binding Energy (eV)', 15)
for (px, py) in [(33, 100), (359, 100), (33, 342), (359, 340), (33, 588), (360, 588)]:
    ptxt(px, py, 'Intensity (a.u.)', 15, angle=-90)

fig.update_layout(width=W, height=H, margin=dict(l=0, r=0, t=0, b=0), paper_bgcolor='white',
                  plot_bgcolor='white', showlegend=False, annotations=ann, **layout_axes)
fig.write_html("out.html")
